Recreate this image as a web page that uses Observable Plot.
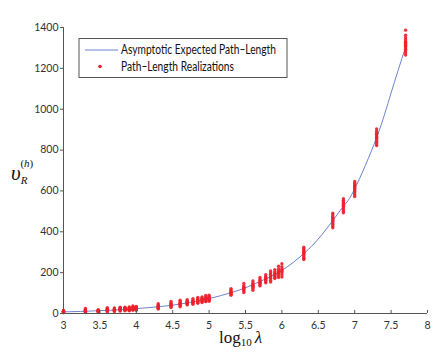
<!DOCTYPE html>
<html>
<head>
<meta charset="utf-8">
<script src="https://cdn.jsdelivr.net/npm/d3@7"></script>
<script src="https://cdn.jsdelivr.net/npm/@observablehq/plot@0.6"></script>
<style>
  html, body { margin: 0; padding: 0; background: #fff; }
  #chart svg { display: block; }
</style>
</head>
<body>
<div id="chart"></div>
<script>
// log10(lambda) values at which realizations were simulated
const logLambda = [3, 3.301, 3.477, 3.602, 3.699, 3.778, 3.845, 3.903, 3.954, 4,
  4.301, 4.477, 4.602, 4.699, 4.778, 4.845, 4.903, 4.954, 5,
  5.301, 5.477, 5.602, 5.699, 5.778, 5.845, 5.903, 5.954, 6,
  6.301, 6.699, 6.845, 7, 7.301, 7.699];

// path-length realizations read at each log10(lambda)
const realizations = [
  [4, 6, 8, 9, 10, 11, 13, 15],
  [5, 8, 11, 13, 15, 17, 20, 25],
  [7, 9, 11, 12, 13, 14, 16, 19],
  [9, 12, 15, 17, 19, 21, 24, 29],
  [10, 13, 15, 17, 18, 20, 23, 27],
  [12, 15, 18, 20, 22, 24, 27, 31],
  [13, 16, 19, 21, 23, 25, 28, 31],
  [13, 16, 19, 21, 23, 25, 28, 32],
  [16, 19, 22, 25, 27, 29, 32, 37],
  [16, 19, 22, 24, 26, 28, 31, 35],
  [22, 26, 30, 33, 35, 38, 42, 48],
  [29, 34, 38, 42, 44, 47, 52, 59],
  [33, 38, 43, 47, 50, 53, 58, 65],
  [42, 46, 50, 53, 55, 58, 61, 67],
  [45, 50, 54, 57, 59, 62, 66, 72],
  [50, 54, 58, 62, 64, 67, 71, 78],
  [54, 58, 62, 66, 68, 71, 75, 81],
  [58, 62, 67, 71, 73, 76, 80, 88],
  [60, 64, 68, 72, 75, 78, 82, 89],
  [89, 94, 99, 103, 106, 110, 115, 122],
  [103, 110, 116, 121, 125, 129, 136, 147],
  [114, 122, 129, 134, 138, 143, 150, 159],
  [135, 141, 147, 152, 156, 160, 167, 176],
  [150, 156, 162, 167, 171, 175, 181, 190],
  [154, 163, 172, 179, 185, 191, 199, 208],
  [171, 177, 184, 189, 193, 197, 205, 215],
  [176, 185, 193, 199, 204, 209, 218, 231],
  [179, 190, 200, 207, 213, 219, 229, 244],
  [264, 270, 277, 284, 291, 296, 301, 306, 311, 318, 325],
  [420, 428, 436, 443, 451, 457, 463, 469, 474, 482, 491],
  [493, 501, 509, 516, 524, 530, 536, 541, 547, 554, 562],
  [573, 581, 590, 598, 606, 612, 618, 624, 630, 638, 646],
  [822, 830, 838, 848, 857, 863, 869, 876, 882, 892, 904],
  [1265, 1275, 1285, 1293, 1300, 1307, 1312, 1317, 1322, 1327, 1332, 1340, 1350, 1362, 1387]
];

// asymptotic expected path-length curve
const curveX = [3, 3.3, 3.5, 3.7, 4, 4.3, 4.5, 4.7, 5, 5.3, 5.5, 5.7, 6, 6.3, 6.5, 6.7, 6.85, 7, 7.3, 7.5, 7.7];
const curveY = [8, 11, 14, 17, 24, 33, 41, 52, 73, 102, 126, 157, 211, 293, 365, 455, 527, 610, 860, 1080, 1305];

const xTicks = [3, 3.5, 4, 4.5, 5, 5.5, 6, 6.5, 7, 7.5, 8];
const yTicks = [0, 200, 400, 600, 800, 1000, 1200, 1400];
const legendLabels = ["Asymptotic Expected Path\u2013Length", "Path\u2013Length Realizations"];

const curve = curveX.map((x, i) => ({x, y: curveY[i]}));
const points = logLambda.flatMap((x, i) => realizations[i].map(v => ({x, y: v})));

const axisColor = "#555";
const tickFont = "Lato, 'Open Sans', sans-serif";
const lineColor = "#6b82cf";
const dotColor = "#ee1f2b";

const plot = Plot.plot({
  width: 443,
  height: 359,
  marginLeft: 63,
  marginRight: 16,
  marginTop: 27,
  marginBottom: 46,
  style: {background: "#fff", fontFamily: tickFont, fontSize: "10.5px", color: "#333"},
  x: {domain: [3, 8], label: null},
  y: {domain: [0, 1400], label: null},
  marks: [
    Plot.line(curve, {x: "x", y: "y", stroke: lineColor, strokeWidth: 1, curve: "natural"}),
    Plot.dot(points, {x: "x", y: "y", r: 1.7, fill: dotColor, stroke: "none", fillOpacity: 0.9}),
    Plot.ruleY([0], {stroke: axisColor}),
    Plot.ruleX([3], {stroke: axisColor}),
    Plot.ruleX(xTicks, {x: d => d, y1: 0, y2: 15, stroke: axisColor}),
    Plot.axisY(yTicks, {tickSize: 3, tickPadding: 2, stroke: axisColor, fill: "#333", tickFormat: d => String(d), label: null}),
    Plot.axisX(xTicks, {tickSize: 0, tickPadding: 8, fill: "#333", tickFormat: d => String(d), label: null})
  ]
});

document.getElementById("chart").appendChild(plot);

const svg = d3.select(plot);

// Legend
const lg = svg.append("g").attr("text-anchor", "start");
lg.append("rect").attr("x", 79).attr("y", 38.5).attr("width", 208).attr("height", 39)
  .attr("fill", "#fff").attr("stroke", "#555").attr("stroke-width", 1);
lg.append("line").attr("x1", 85).attr("x2", 118).attr("y1", 50).attr("y2", 50)
  .attr("stroke", lineColor).attr("stroke-width", 1);
lg.append("circle").attr("cx", 100).attr("cy", 66.5).attr("r", 1.8).attr("fill", dotColor);
lg.append("text").attr("x", 121).attr("y", 54).attr("text-anchor", "start").text(legendLabels[0])
  .attr("font-family", tickFont).attr("font-size", 12.5).attr("fill", "#111")
  .attr("textLength", 155).attr("lengthAdjust", "spacingAndGlyphs");
lg.append("text").attr("x", 121).attr("y", 71).attr("text-anchor", "start").text(legendLabels[1])
  .attr("font-family", tickFont).attr("font-size", 12.5).attr("fill", "#111")
  .attr("textLength", 113).attr("lengthAdjust", "spacingAndGlyphs");

// X axis label: log10 λ
const xl = svg.append("text").attr("x", 219).attr("y", 343)
  .attr("text-anchor", "start")
  .attr("font-family", "'Liberation Serif', 'DejaVu Serif', serif")
  .attr("font-size", 17).attr("fill", "#111");
xl.append("tspan").text("log");
xl.append("tspan").attr("font-size", 11).attr("dy", 3).text("10");
xl.append("tspan").attr("dy", -3).attr("dx", 3).attr("font-style", "italic").text("\u03bb");

// Y axis label: υ_R^(h)
const yl = svg.append("text").attr("x", 11).attr("y", 180)
  .attr("text-anchor", "start")
  .attr("font-family", "'Liberation Serif', 'DejaVu Serif', serif")
  .attr("font-style", "italic").attr("fill", "#111");
yl.append("tspan").attr("font-size", 21).text("\u03c5");
yl.append("tspan").attr("font-size", 11).attr("dy", 4).text("R");
yl.append("tspan").attr("font-size", 11).attr("dy", -17).attr("dx", -7).attr("font-style", "normal").text("(");
yl.append("tspan").attr("font-size", 11).text("h");
yl.append("tspan").attr("font-size", 11).attr("font-style", "normal").text(")");
</script>
</body>
</html>
